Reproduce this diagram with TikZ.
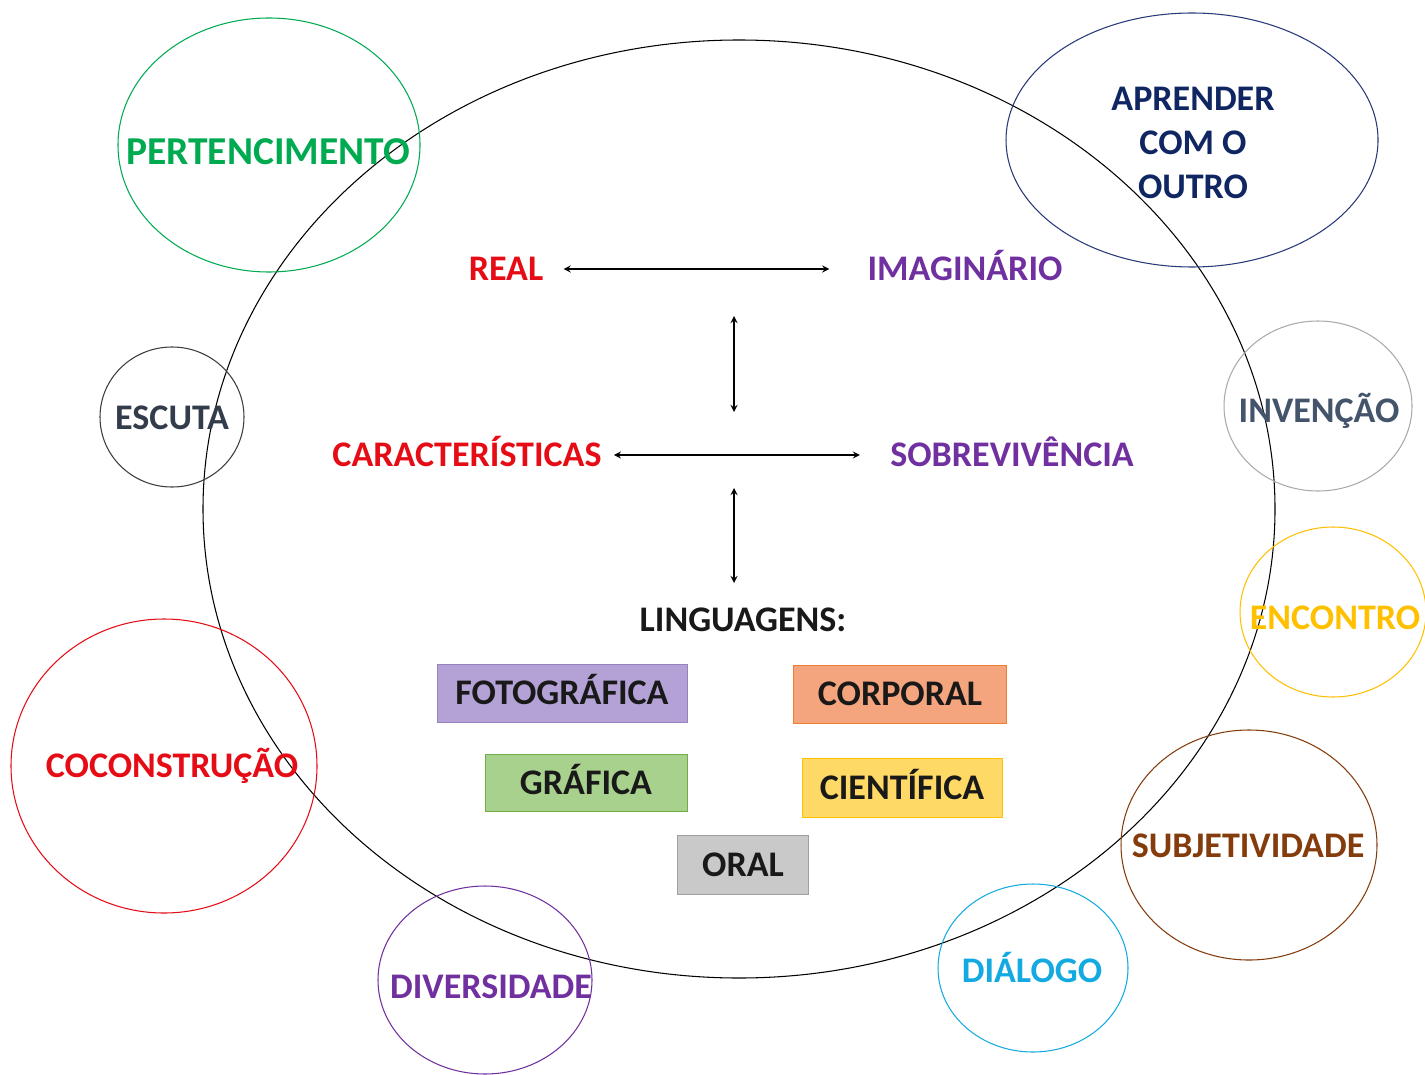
\documentclass[tikz,border=0pt]{standalone}
\usepackage{fontspec}
\setmainfont{Carlito}
\usetikzlibrary{shapes.geometric, arrows, positioning}

\definecolor{realred}{RGB}{230,12,22}
\definecolor{imagpurple}{RGB}{112,48,160}
\definecolor{pertgreen}{RGB}{0,170,80}
\definecolor{navy}{RGB}{16,38,98}
\definecolor{navyline}{RGB}{40,56,120}
\definecolor{escutatext}{RGB}{50,60,75}
\definecolor{escutaline}{RGB}{60,60,60}
\definecolor{invtext}{RGB}{68,84,106}
\definecolor{invline}{RGB}{170,170,170}
\definecolor{gold}{RGB}{255,192,0}
\definecolor{brown}{RGB}{132,60,12}
\definecolor{dialblue}{RGB}{20,170,225}
\definecolor{fotofill}{RGB}{180,162,214}
\definecolor{fotoline}{RGB}{150,130,190}
\definecolor{corpfill}{RGB}{245,165,125}
\definecolor{corpline}{RGB}{237,125,49}
\definecolor{graffill}{RGB}{169,209,142}
\definecolor{grafline}{RGB}{112,173,71}
\definecolor{ciefill}{RGB}{255,217,102}
\definecolor{cieline}{RGB}{255,192,0}
\definecolor{oralfill}{RGB}{201,201,201}
\definecolor{oralline}{RGB}{160,160,160}

\begin{document}
\begin{tikzpicture} [
        x = 0.02cm, y = -0.02cm,
        wordfont/.style = {font=\fontsize{20.5}{25}\selectfont\bfseries, inner sep=0pt},
        word/.style = {wordfont, text height=13pt, text depth=0pt},
        ring/.style = {draw=#1, line width=0.6pt},
        link/.style = {draw, stealth-stealth, line width=0.8pt},
        lang/.style 2 args = {word, text=black!90, draw=#1, fill=#2, line width=0.5pt}
    ]

    \useasboundingbox[fill=white] (0,0) rectangle (1425,1074);

    % big ellipse and the ring of circles
    \draw[ring=black] (739,509) ellipse [x radius=536, y radius=469];
    \draw[ring=pertgreen]  (269,145)  ellipse [x radius=151, y radius=127];
    \draw[ring=navyline]   (1192,140) ellipse [x radius=186, y radius=127];
    \draw[ring=escutaline] (172,417)  ellipse [x radius=72,  y radius=70];
    \draw[ring=invline]    (1318,406) ellipse [x radius=94,  y radius=85];
    \draw[ring=gold]       (1333,612) ellipse [x radius=93,  y radius=85];
    \draw[ring=realred]    (164,766)  ellipse [x radius=153, y radius=147];
    \draw[ring=brown]      (1249,845) ellipse [x radius=128, y radius=115];
    \draw[ring=dialblue]   (1033,968) ellipse [x radius=95,  y radius=84];
    \draw[ring=imagpurple] (485,980)  ellipse [x radius=107, y radius=94];

    \node[word, pertgreen, font=\fontsize{22.5}{27}\selectfont\bfseries, text height=14pt] (pert) at (268,152) {PERTENCIMENTO};
    \node[wordfont, navy, align=center] (aprender) at (1193,143) {APRENDER\\COM O\\OUTRO};
    \node[word, escutatext] (escuta) at (172,418)  {ESCUTA};
    \node[word, invtext]    (invencao) at (1319,411) {INVENÇÃO};
    \node[word, gold]       (encontro) at (1335,618) {ENCONTRO};
    \node[word, realred]    (cocons) at (172,766)  {COCONSTRUÇÃO};
    \node[word, brown]      (subj)  at (1248,846) {SUBJETIVIDADE};
    \node[word, dialblue]   (dialogo) at (1032,971) {DIÁLOGO};
    \node[word, imagpurple] (divers) at (491,987)  {DIVERSIDADE};

    % centre
    \node[word, realred]    (real)   at (506,269)  {REAL};
    \node[word, imagpurple] (imag)   at (965,269)  {IMAGINÁRIO};
    \node[word, realred]    (caract) at (467,455)  {CARACTERÍSTICAS};
    \node[word, imagpurple] (sobrev) at (1012,455) {SOBREVIVÊNCIA};
    \node[word, black!90]   (ling)   at (743,620)  {LINGUAGENS:};

    \coordinate (v1a) at (734,316);
    \coordinate (v1b) at (734,412);
    \coordinate (v2a) at (734,488);
    \coordinate (v2b) at (734,583);

    \draw[link, shorten <=0.4cm,  shorten >=0.76cm] (real.east) -- (imag.west);
    \draw[link, shorten <=0.24cm, shorten >=0.6cm]  (caract.east) -- (sobrev.west);
    \draw[link] (v1a) -- (v1b);
    \draw[link] (v2a) -- (v2b);

    % languages
    \node[lang={fotoline}{fotofill}, minimum width=5cm,    minimum height=1.16cm] (foto) at (562,693) {FOTOGRÁFICA};
    \node[lang={corpline}{corpfill}, minimum width=4.26cm, minimum height=1.16cm] (corp) at (900,694) {CORPORAL};
    \node[lang={grafline}{graffill}, minimum width=4.04cm, minimum height=1.14cm] (graf) at (586,783) {GRÁFICA};
    \node[lang={cieline}{ciefill},   minimum width=4cm,    minimum height=1.18cm] (cien) at (902,788) {CIENTÍFICA};
    \node[lang={oralline}{oralfill}, minimum width=2.62cm, minimum height=1.18cm] (oral) at (743,865) {ORAL};

\end{tikzpicture}
\end{document}
